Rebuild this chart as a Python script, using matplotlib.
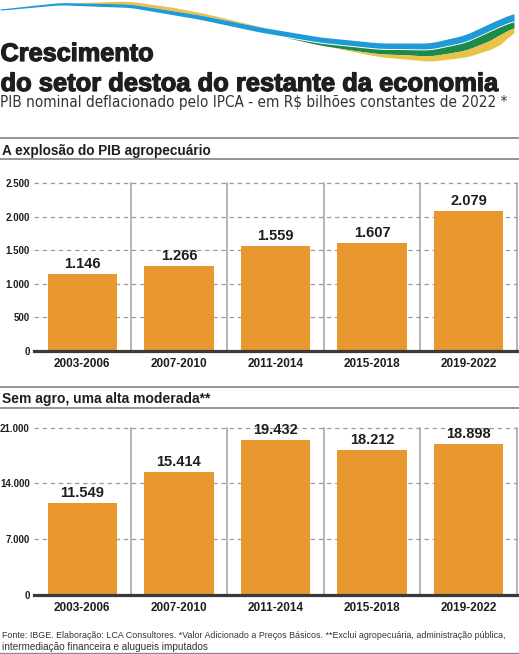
import numpy as np
import matplotlib
matplotlib.use("Agg")
import matplotlib.pyplot as plt
import matplotlib.patheffects as pe
from matplotlib import font_manager as fm

# ---------------- data ----------------
periods = ["2003-2006", "2007-2010", "2011-2014", "2015-2018", "2019-2022"]
agro_values = [1146, 1266, 1559, 1607, 2079]
agro_ticks = [0, 500, 1000, 1500, 2000, 2500]
nonagro_values = [11549, 15414, 19432, 18212, 18898]
nonagro_ticks = [0, 7000, 14000, 21000]

title_line1 = "Crescimento"
title_line2 = "do setor destoa do restante da economia"
subtitle = "PIB nominal deflacionado pelo IPCA - em R$ bilhões constantes de 2022 *"
header1 = "A explosão do PIB agropecuário"
header2 = "Sem agro, uma alta moderada**"
footer1 = ("Fonte: IBGE. Elaboração: LCA Consultores. *Valor Adicionado a Preços Básicos. "
           "**Exclui agropecuária, administração pública,")
footer2 = "intermediação financeira e alugueis imputados"

# ---------------- style ----------------
W, H = 519, 654
DPI = 100
BAR = "#E8982F"
GRID = "#9a9a9a"
SEP = "#a0a0a0"
RULE = "#8c8c8c"
DARK = "#1e1e1e"
SANS = ["Liberation Sans", "DejaVu Sans"]

plt.rcParams["font.family"] = SANS


def _w(f):
    w = f.weight
    if isinstance(w, str):
        w = fm.weight_dict.get(w, 400)
    return int(w)


def find_condensed_regular():
    cands = []
    for f in fm.fontManager.ttflist:
        if f.style != "normal" or "Extra" in f.name or f.stretch == "extra-condensed":
            continue
        cond = (f.stretch in ("condensed", "semi-condensed")
                or "Narrow" in f.name or "Condensed" in f.name)
        if cond and 300 <= _w(f) <= 400:
            cands.append(f)
    if not cands:
        return None
    cands.sort(key=lambda f: abs(_w(f) - 400))
    return fm.FontProperties(fname=cands[0].fname)


light_fp = find_condensed_regular()

fig = plt.figure(figsize=(W / DPI, H / DPI), dpi=DPI)
fig.patch.set_facecolor("white")
renderer = fig.canvas.get_renderer()

bg = fig.add_axes([0, 0, 1, 1], zorder=0)
bg.set_xlim(0, W)
bg.set_ylim(H, 0)
bg.axis("off")


def fit_text(x, y, s, target_w, size, fp=None, **kw):
    if fp is not None:
        fp = fp.copy()
        fp.set_size(size)
        t = bg.text(x, y, s, fontproperties=fp, va="baseline", ha="left", **kw)
    else:
        t = bg.text(x, y, s, fontsize=size, va="baseline", ha="left", **kw)
    w = t.get_window_extent(renderer=renderer).width
    t.set_fontsize(size * target_w / w)
    return t


def smooth_curve(xp, yp, xs, k=12):
    y = np.interp(xs, xp, yp)
    pad = np.pad(y, k, mode="edge")
    ker = np.ones(2 * k + 1) / (2 * k + 1)
    return np.convolve(pad, ker, mode="valid")

# decorative swoosh
xs = np.linspace(0, 514, 800)
blue_top = smooth_curve([0, 60, 130, 200, 260, 320, 380, 430, 465, 495, 514],
                        [9, 2.5, 4, 15, 27, 37, 43, 43, 35, 21, 13], xs)
blue_th = np.interp(xs, [0, 100, 250, 400, 480, 514], [1.2, 3, 5, 5.5, 7, 7])
blue_bot = blue_top + blue_th
yel_th = np.interp(xs, [70, 120, 170, 220, 270], [0, 2.5, 3.5, 2.0, 0])
green_th = np.interp(xs, [285, 350, 430, 490, 514], [0, 3.5, 6, 9, 6])
white_gap = np.where(green_th > 0, 1.0, 0)
green_top = blue_bot + white_gap
green_bot = green_top + green_th
ylow_th = np.interp(xs, [330, 400, 460, 500, 514], [0, 4, 6.5, 10, 5])
ylow_bot = green_bot + ylow_th

bg.fill_between(xs, blue_top - yel_th, blue_top, where=yel_th > 0, color="#E9C24A", lw=0)
bg.fill_between(xs, blue_top, blue_bot, color="#1E9AD6", lw=0)
bg.fill_between(xs, green_top, green_bot, where=green_th > 0, color="#1C8A4A", lw=0)
bg.fill_between(xs, green_bot, ylow_bot, where=ylow_th > 0, color="#E9C24A", lw=0)

# titles
stroke = [pe.withStroke(linewidth=0.9, foreground=DARK)]
t1 = fit_text(0.5, 61, title_line1, 153, 19, fontweight="bold", color=DARK)
t2 = fit_text(0.5, 91, title_line2, 498, 19, fontweight="bold", color=DARK)
t1.set_path_effects(stroke)
t2.set_path_effects(stroke)
fit_text(0, 107.5, subtitle, 507, 11, fp=light_fp, color="#333333")

# section headers
for ytop, ybot, txt, tw in [(137.7, 159, header1, 211), (386.7, 407.7, header2, 210)]:
    bg.plot([0, W], [ytop, ytop], color=RULE, lw=1.3, solid_capstyle="butt")
    bg.plot([0, W], [ybot, ybot], color=RULE, lw=1.3, solid_capstyle="butt")
    fit_text(2, ybot - 4.5, txt, tw, 10.5, fontweight="bold", color=DARK)

# footer
fit_text(2, 638, footer1, 503, 6.3, color="#333333")
fit_text(2, 649.5, footer2, 206, 6.3, color="#333333")
bg.plot([0, W], [652.8, 652.8], color=RULE, lw=1.0)

# ---------------- bar panels ----------------
def panel(y_top_px, y_zero_px, values, ticks):
    left, right = 34, 517
    ax = fig.add_axes([left / W, 1 - y_zero_px / H, (right - left) / W,
                       (y_zero_px - y_top_px) / H], zorder=1)
    ax.patch.set_alpha(0)
    x = np.arange(len(values))
    ax.set_xlim(-0.5, len(values) - 0.5)
    ax.set_ylim(ticks[0], ticks[-1])
    for t in ticks[1:]:
        ax.axhline(t, color=GRID, lw=0.9, ls=(0, (3.5, 3)), zorder=1, clip_on=False)
    for s in np.arange(0.5, len(values), 1.0):
        ax.axvline(s, color=SEP, lw=1.1, zorder=1, clip_on=False)
    bars = ax.bar(x, values, width=0.72, color=BAR, zorder=2)
    for b, v in zip(bars, values):
        ax.annotate(f"{v:,}".replace(",", "."), (b.get_x() + b.get_width() / 2, v),
                    xytext=(0, 3), textcoords="offset pixels", ha="center", va="bottom",
                    fontsize=10.5, fontweight="bold", color=DARK, zorder=3)
    ax.axhline(0, color="#3a3a3a", lw=2.3, zorder=4, clip_on=False)
    for sp in ax.spines.values():
        sp.set_visible(False)
    ax.set_yticks(ticks)
    ax.set_yticklabels([f"{t:,}".replace(",", ".") for t in ticks])
    ax.set_xticks(x)
    ax.set_xticklabels(periods)
    ax.tick_params(axis="y", length=0, pad=3, labelsize=7, labelcolor=DARK)
    ax.tick_params(axis="x", length=0, pad=5, labelsize=8.5, labelcolor=DARK)
    for lab in ax.get_yticklabels() + ax.get_xticklabels():
        lab.set_fontweight("bold")
    return ax

panel(183.3, 350.7, agro_values, agro_ticks)
panel(427.7, 595.0, nonagro_values, nonagro_ticks)

fig.savefig("out.png", dpi=DPI, facecolor="white")
